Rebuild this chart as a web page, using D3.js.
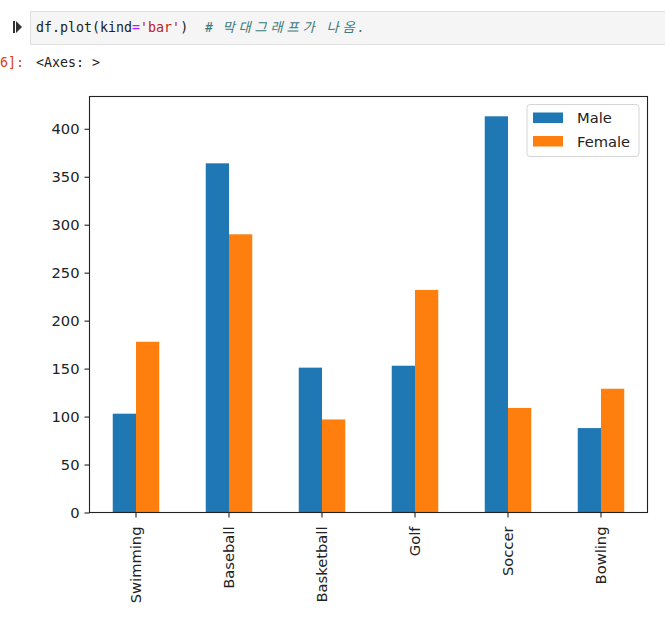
<!DOCTYPE html>
<html>
<head>
<meta charset="utf-8">
<script src="https://cdn.jsdelivr.net/npm/d3@7"></script>
<style>
  body { margin: 0; background: #fff; }
  svg { display: block; }
</style>
</head>
<body>
<svg id="chart"></svg>
<script>
// Values
const sports = ['Swimming', 'Baseball', 'Basketball', 'Golf', 'Soccer', 'Bowling'];
const seriesNames = ['Male', 'Female'];
const maleValues = [103, 364, 151, 153, 413, 88];
const femaleValues = [178, 290, 97, 232, 109, 129];
const yTicks = [0, 50, 100, 150, 200, 250, 300, 350, 400];
const colors = ['#1f77b4', '#ff7f0e'];

const W = 665, H = 628;
const plot = { left: 89.5, right: 647.5, top: 96.5, bottom: 512.5 };

const svg = d3.select('#chart')
    .attr('width', W)
    .attr('height', H)
    .style('background', '#fff');

// ---- notebook cell header ----
svg.append('rect')
    .attr('x', 30.5).attr('y', 11.5)
    .attr('width', W).attr('height', 33)
    .attr('fill', '#f5f5f5')
    .attr('stroke', '#e0e0e0');

// run marker
svg.append('rect').attr('x', 13).attr('y', 21).attr('width', 2).attr('height', 12).attr('fill', '#333');
svg.append('path').attr('d', 'M16,21 L22,27 L16,33 Z').attr('fill', '#333');

const monoFont = '"DejaVu Sans Mono", monospace';

const code = svg.append('text')
    .attr('x', 36).attr('y', 32)
    .style('font-family', monoFont)
    .style('font-size', '13.3px')
    .attr('fill', '#212121');
code.append('tspan').text('df.plot(kind');
code.append('tspan').attr('fill', '#aa22ff').text('=');
code.append('tspan').attr('fill', '#ba2121').text("'bar'");
code.append('tspan').text(')');

// comment: hangul takes two columns in the notebook font
const comment = '# 막대그래프가 나옴.';
let col = 0;
const commentChars = Array.from(comment).map(ch => {
    const wide = /[\uac00-\ud7a3]/.test(ch);
    const c = { ch, col, wide };
    col += wide ? 2 : 1;
    return c;
});
svg.append('g')
    .selectAll('text')
    .data(commentChars.filter(d => d.ch !== ' '))
    .enter()
    .append('text')
    .attr('x', d => 205 + d.col * 8 + (d.wide ? 1.5 : 0))
    .attr('y', 32)
    .attr('fill', '#3d7a7a')
    .style('font-style', 'italic')
    .style('font-family', '"DejaVu Sans Mono", "Noto Sans CJK KR", monospace')
    .style('font-size', '13.3px')
    .text(d => d.ch);

svg.append('text')
    .attr('x', 0).attr('y', 67)
    .style('font-family', monoFont)
    .style('font-size', '13.3px')
    .attr('fill', '#d84315')
    .text('6]:');

svg.append('text')
    .attr('x', 36).attr('y', 67)
    .style('font-family', monoFont)
    .style('font-size', '13.3px')
    .attr('fill', '#212121')
    .text('<Axes: >');

// ---- scales ----
const x = d3.scaleBand()
    .domain(sports)
    .range([plot.left, plot.right])
    .paddingInner(0.5)
    .paddingOuter(0.25);

const xSub = d3.scaleBand()
    .domain(seriesNames)
    .range([0, x.bandwidth()]);

const yMax = d3.max(maleValues.concat(femaleValues)) * 1.05;
const y = d3.scaleLinear()
    .domain([0, yMax])
    .range([plot.bottom, plot.top]);

// ---- bars ----
const rows = sports.map((s, i) => ({ sport: s, values: [maleValues[i], femaleValues[i]] }));

const groups = svg.selectAll('.group')
    .data(rows)
    .enter()
    .append('g')
    .attr('class', 'group')
    .attr('transform', d => `translate(${x(d.sport)},0)`);

groups.selectAll('rect')
    .data(d => d.values.map((v, j) => ({ name: seriesNames[j], value: v, color: colors[j] })))
    .enter()
    .append('rect')
    .attr('x', d => xSub(d.name))
    .attr('width', xSub.bandwidth())
    .attr('y', d => y(d.value))
    .attr('height', d => y(0) - y(d.value))
    .attr('fill', d => d.color);

// ---- axes ----
const axisFont = 'DejaVu Sans, sans-serif';
const axisSize = '14.7px';

const yAxis = svg.append('g')
    .attr('transform', `translate(${plot.left},0)`)
    .call(d3.axisLeft(y).tickValues(yTicks).tickSize(5).tickPadding(5));
yAxis.select('.domain').remove();
yAxis.selectAll('.tick line').attr('stroke', '#222').attr('stroke-width', 1.1);
yAxis.selectAll('.tick text')
    .style('font-family', axisFont)
    .style('font-size', axisSize)
    .attr('fill', '#222');

const xAxis = svg.append('g')
    .attr('transform', `translate(0,${plot.bottom})`)
    .call(d3.axisBottom(x).tickSize(5).tickPadding(5));
xAxis.select('.domain').remove();
xAxis.selectAll('.tick line').attr('stroke', '#222').attr('stroke-width', 1.1);
xAxis.selectAll('.tick text')
    .style('font-family', axisFont)
    .style('font-size', axisSize)
    .attr('fill', '#222')
    .attr('text-anchor', 'end')
    .attr('dy', '0.35em')
    .attr('transform', 'rotate(-90) translate(-14,0)')
    .attr('x', 0).attr('y', 0);

// frame
svg.append('rect')
    .attr('x', plot.left).attr('y', plot.top)
    .attr('width', plot.right - plot.left)
    .attr('height', plot.bottom - plot.top)
    .attr('fill', 'none')
    .attr('stroke', '#222')
    .attr('stroke-width', 1.1);

// ---- legend ----
const legend = svg.append('g').attr('transform', 'translate(527,104.5)');
legend.append('rect')
    .attr('width', 112).attr('height', 52)
    .attr('rx', 3)
    .attr('fill', '#fff')
    .attr('fill-opacity', 0.8)
    .attr('stroke', '#d5d5d5');

seriesNames.forEach((name, i) => {
    legend.append('rect')
        .attr('x', 6).attr('y', 8 + i * 23.5)
        .attr('width', 30).attr('height', 10.5)
        .attr('fill', colors[i]);
    legend.append('text')
        .attr('x', 50).attr('y', 13.5 + i * 23.5)
        .attr('dy', '0.35em')
        .style('font-family', axisFont)
        .style('font-size', axisSize)
        .attr('fill', '#222')
        .text(name);
});
</script>
</body>
</html>
